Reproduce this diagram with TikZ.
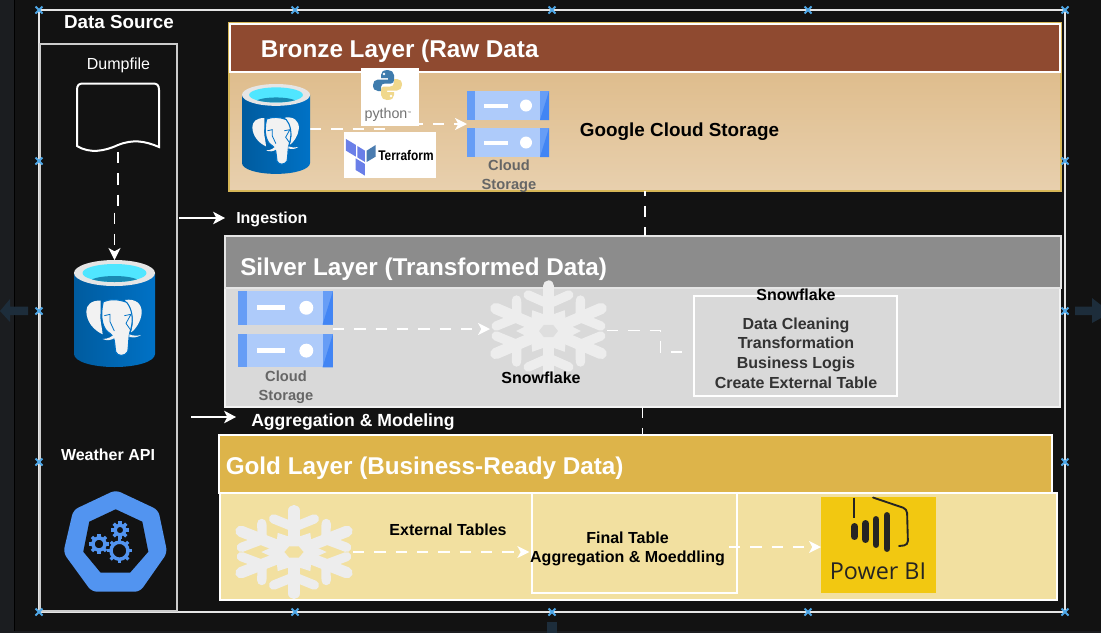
\documentclass[tikz,border=0pt]{standalone}
\usepackage{fontspec}
\setmainfont{Liberation Sans}
\newfontfamily\pbifont{Open Sans}
\usetikzlibrary{arrows.meta,calc}
\definecolor{bgc}{HTML}{121212}
\definecolor{stripc}{HTML}{1B1D20}
\definecolor{bronzeh}{HTML}{8F4A30}
\definecolor{bronzet}{HTML}{DBB57F}
\definecolor{bronzeb}{HTML}{E8D0AE}
\definecolor{bronzel}{HTML}{D6B656}
\definecolor{silverh}{HTML}{8C8C8C}
\definecolor{silverb}{HTML}{D9D9D9}
\definecolor{goldh}{HTML}{DDB44A}
\definecolor{goldb}{HTML}{F2E0A0}
\definecolor{flakec}{HTML}{EDEDED}
\definecolor{pgblue}{HTML}{0072C6}
\definecolor{pgcyan}{HTML}{50E6FF}
\definecolor{pgdeep}{HTML}{198AB3}
\definecolor{csl}{HTML}{AECBFA}
\definecolor{csm}{HTML}{669DF6}
\definecolor{csd}{HTML}{4285F4}
\definecolor{k8s}{HTML}{5294F0}
\definecolor{hdlc}{HTML}{4FA8E8}
\definecolor{ghost}{HTML}{1D2D3B}
\definecolor{pbiy}{HTML}{F2C811}
\definecolor{pbid}{HTML}{252423}
\definecolor{capg}{HTML}{666666}
\definecolor{boxt}{HTML}{333333}
\definecolor{pyblue}{HTML}{3F7CAD}
\definecolor{pyyellow}{HTML}{F0D88C}
\definecolor{tfl}{HTML}{6A7FE8}
\definecolor{tfd}{HTML}{4A7CB0}
\tikzset{
  box/.style 2 args={minimum width=#1*0.75pt,minimum height=#2*0.75pt,inner sep=0pt,outer sep=0pt,anchor=north west},
  edge1/.style={line width=0.85pt},
  flow/.style={draw=white,line width=0.9pt,dash pattern=on 8.5pt off 7.5pt},
  flowtip/.style={flow,-{Stealth[length=9pt,width=9pt,inset=2.5pt,fill=white]}},
  solidtip/.style={draw=white,line width=0.9pt,-{Stealth[length=9pt,width=9.5pt,inset=2.5pt,fill=white]}},
  title/.style={font=\fontsize{18.2}{21}\selectfont\bfseries,text=white,anchor=west,inner sep=0pt},
  lab/.style={font=\fontsize{12}{14.7}\selectfont\bfseries,align=center,inner sep=0pt},
  caplab/.style={font=\fontsize{11}{14}\selectfont\bfseries,align=center,text=capg,inner sep=0pt},
  pics/pgicon/.style={code={
    \shade[left color=pgblue!80!black,right color=pgblue] (0,13) -- (0,94) .. controls (0,101.5) and (18,107) .. (40.5,107) .. controls (63,107) and (81,101.5) .. (81,94) -- (81,13) -- cycle;
    \fill[black!10] (40.5,13) ellipse [x radius=40.5,y radius=13];
    \begin{scope}
      \clip (40.5,13) ellipse [x radius=32,y radius=9];
      \fill[pgcyan] (0,0) rectangle (81,26);
      \fill[pgdeep] (40.5,22) ellipse [x radius=25,y radius=6];
    \end{scope}
    \begin{scope}[scale=0.3333,shift={(-42,-15)}]
      \fill[black!5] (122,137) .. controls (95,135) and (78,150) .. (79,170) .. controls (80,200) and (100,225) .. (128,238) .. controls (125,210) and (118,190) .. (122,170) -- cycle;
      \fill[black!5] (195,135) .. controls (225,130) and (247,145) .. (245,175) .. controls (243,200) and (225,225) .. (213,232) .. controls (222,200) and (222,170) .. (195,135) -- cycle;
      \filldraw[fill=black!5,draw=pgblue,line width=.8pt] (130,140) .. controls (150,132) and (175,132) .. (200,142) .. controls (215,160) and (222,190) .. (212,225) .. controls (205,240) and (207,270) .. (203,290) .. controls (195,305) and (172,305) .. (167,290) .. controls (163,260) and (165,245) .. (150,235) .. controls (130,225) and (118,190) .. (130,140) -- cycle;
      \draw[pgblue,line width=.6pt] (133,182) -- (150,178) -- (150,200) -- (163,228);
      \draw[pgblue,line width=.6pt] (193,182) -- (213,178) -- (198,205) -- (212,225);
      \fill[black!5] (128,252) .. controls (145,252) and (155,245) .. (165,236) -- (165,248) .. controls (155,256) and (140,258) .. (128,252) -- cycle;
      \fill[black!5] (208,238) .. controls (220,243) and (232,243) .. (243,240) .. controls (232,248) and (220,248) .. (208,246) -- cycle;
    \end{scope}
  }},
  pics/csicon/.style={code={
    \foreach \dy in {0,37}{
      \fill[csl] (0,\dy) rectangle (82,\dy+29);
      \fill[csm] (0,\dy) rectangle (8,\dy+29);
      \fill[csm] (73,\dy) rectangle (82,\dy+29);
      \fill[csd] (73,\dy+29) -- (82,\dy) -- (82,\dy+29) -- cycle;
      \fill[white] (16.5,\dy+12.5) rectangle (41,\dy+16.5);
      \fill[white] (59,\dy+14.5) circle [radius=6];
    }
  }},
  pics/flake/.style={code={
    \fill[flakec] (0:24) -- (30:15) -- (60:24) -- (90:15) -- (120:24) -- (150:15) -- (180:24) -- (210:15) -- (240:24) -- (270:15) -- (300:24) -- (330:15) -- cycle;
    \foreach \a in {30,90,150,210,270,330}{
      \begin{scope}[rotate=\a]
        \draw[flakec,line width=8.5pt,line cap=round] (0,0) -- (45,0);
        \draw[flakec,line width=7pt,line cap=round] (36,15) -- (27,0) -- (36,-15);
      \end{scope}
    }
    \fill[#1] (0:7) -- (60:7) -- (120:7) -- (180:7) -- (240:7) -- (300:7) -- cycle;
  }},
  pics/hdl/.style={code={
    \draw[hdlc,line width=1.5pt] (-3.5,-3.5) -- (3.5,3.5) (-3.5,3.5) -- (3.5,-3.5);
  }},
  pics/gear/.style={code={
    \foreach \a in {0,45,...,315}{
      \draw[k8s,line width=2.4pt] (\a:#1-1) -- (\a:#1+3);
    }
    \draw[k8s,line width=2.6pt] (0,0) circle [radius=#1-1];
  }},
}
\newcommand{\pyshape}{(15,0) .. controls (10,0) and (8,2) .. (8,5) -- (8,8) -- (15,8) -- (15,9.5) -- (5,9.5) .. controls (2,9.5) and (0,12) .. (0,15) .. controls (0,19) and (2,21) .. (5,21) -- (8,21) -- (8,17) .. controls (8,14.5) and (10,13.5) .. (12,13.5) -- (18,13.5) .. controls (20,13.5) and (21,12) .. (21,10) -- (21,5) .. controls (21,2) and (18,0) .. (15,0) -- cycle}
\begin{document}
\begin{tikzpicture}[x=0.75pt,y=-0.75pt]
\useasboundingbox (0,0) rectangle (1101,633);
% backdrop
\fill[bgc] (0,0) rectangle (1101,633);
\fill[stripc] (0,0) rectangle (14,633);
\fill[black] (14,0) rectangle (15,633);
\fill[stripc] (0,631) rectangle (1101,633);
% faint page arrows
\fill[ghost] (28,306.5) -- (10,306.5) -- (10,299) -- (0,311) -- (10,322) -- (10,315) -- (28,315) -- cycle;
\fill[ghost] (1075,306.5) -- (1092,306.5) -- (1092,298) -- (1101,305) -- (1101,318) -- (1092,323) -- (1092,315) -- (1075,315) -- cycle;
\fill[ghost] (547,622) rectangle (557,633);
% frames
\node[box={1026}{602},draw=white!90!black,edge1] (outer) at (39,10) {};
\node[box={137}{567},draw=black!20,edge1] (dsbox) at (40,44) {};
% layers
\node[box={832}{168},draw=bronzel,edge1,top color=bronzet,bottom color=bronzeb] (bronze) at (229,23) {};
\node[box={830}{48},draw=white,edge1,fill=bronzeh] (bronzehead) at (230,24) {};
\node[box={835}{119},draw=white!95!black,edge1,fill=silverb] (silver) at (225,288) {};
\node[box={836}{52},draw=black!10,edge1,fill=silverh] (silverhead) at (225,236) {};
\node[box={837}{107},draw=white,edge1,fill=goldb] (gold) at (220,493) {};
\node[box={833}{58},draw=white,edge1,fill=goldh] (goldhead) at (219,435) {};
\node[box={205}{100},draw=white,edge1] (final) at (532,493) {};
\node[box={203}{100},draw=white,edge1] (sfbox) at (694,296) {};
% anchor boxes of the icons
\node[box={82}{65}] (dump) at (77,83) {};
\node[box={81}{107}] (pgA) at (74,260) {};
\node[box={68}{90}] (pgB) at (242,84) {};
\node[box={82}{66}] (csB) at (467,91) {};
\node[box={95}{76}] (csS) at (238,291) {};
\node[box={117}{101}] (flakeS) at (490,280) {};
\node[box={118}{92}] (flakeG) at (235,506) {};
\node[box={115}{96},fill=pbiy] (pbi) at (821,497) {};
\coordinate (ingA) at (179,218);
\coordinate (aggA) at (191,417);
\coordinate (aggB) at (236,417);
\coordinate (sfIn) at (685,352);
\coordinate (finalOut) at (729,547);
% connectors
\draw[flow,dash phase=4.75pt] (bronze.south) -- (bronze.south |- silverhead.north);
\draw[flow] (silver.south) -- (silver.south |- goldhead.north);
\draw[flowtip,shorten <=3pt] (dump.south) -- ([yshift=-43pt]dump.south) -| (pgA.north);
\draw[flowtip] (pgB.east) -- ([xshift=58.5pt]pgB.east) |- (csB.west);
\draw[flowtip] (csS.east) -- (csS.east -| flakeS.west);
\draw[flow] (flakeS.east) -- ([xshift=40pt]flakeS.east) |- (sfIn);
\draw[flowtip,shorten >=2pt] (flakeG.east) -- (final.west |- flakeG.east);
\draw[flowtip] (finalOut) -- (pbi.west |- finalOut);
\draw[solidtip] (ingA) -- (silverhead.west |- ingA);
\draw[solidtip] (aggA) -- (aggB);
% logo cards over the bronze connector
\node[box={58}{58},fill=white] (py) at (361,68) {};
\node[box={92}{46},fill=white] (tf) at (344,132) {};
% handles
\foreach \p in {(39,10),(295,10),(552,10),(808,10),(1065,10),(39,161),(1065,161),(39,311),(1065,311),(39,462),(1065,462),(39,612),(295,612),(552,612),(808,612),(1065,612)}{
  \pic at \p {hdl};
}
% dumpfile shape
\draw[white,line width=1.5pt] (77,146) -- (77,90) .. controls (77,85) and (79,83.5) .. (83,83.5) -- (153,83.5) .. controls (157,83.5) and (159,85) .. (159,90) -- (159,147) .. controls (145,141) and (133,139) .. (118,145) .. controls (105,151) and (90,154) .. (77,146) -- cycle;
% icons
\pic at (74,260) {pgicon};
\pic[scale=0.84] at (242,84) {pgicon};
\pic at (467,91) {csicon};
\pic[scale=1.158] at (238,291) {csicon};
\pic[xscale=1.35,yscale=1.0] at (548.5,331) {flake=black!13};
\pic[xscale=1.36,yscale=0.92] at (294,552) {flake=goldb};
% kubernetes
\fill[k8s,rounded corners=4pt] (115.7,490) -- (158.3,510) -- (167.3,552.7) -- (140,591.7) -- (91.7,591.7) -- (63.3,552.7) -- (73.3,510) -- cycle;
\fill[bgc] (115.7,509.3) -- (142.3,521.7) -- (148.3,551.7) -- (130,572.7) -- (100.7,572.7) -- (83.3,551.7) -- (89.3,521.7) -- cycle;
\pic at (119.5,550.7) {gear=9.5};
\pic at (120,530) {gear=6};
\pic at (99,544) {gear=7};
% python
\begin{scope}[shift={(373,70)}]
  \fill[pyblue] \pyshape;
  \fill[white] (11,4) circle [radius=1.4];
  \begin{scope}[shift={(29,30)},scale=-1]
    \fill[pyyellow] \pyshape;
    \fill[white] (11,4) circle [radius=1.4];
  \end{scope}
\end{scope}
\node[font=\fontsize{10.7}{12}\selectfont,text=black!55,inner sep=0pt] (pytxt) at (388,115) {python\raisebox{3.5pt}{\fontsize{3}{3}\selectfont ™}};
% terraform
\begin{scope}[shift={(225,60)},scale=0.3333]
  \fill[tfl] (363,237) -- (393,255) -- (393,290) -- (363,272) -- cycle;
  \fill[tfl] (397,258) -- (420,272) -- (420,306) -- (397,292) -- cycle;
  \fill[tfd] (425,272) -- (452,255) -- (452,290) -- (425,306) -- cycle;
  \fill[tfl] (392,295) -- (420,312) -- (420,347) -- (392,330) -- cycle;
\end{scope}
\node[font=\fontsize{10.5}{12}\selectfont\bfseries,xscale=.85,transform shape,inner sep=0pt] (tftxt) at (406,155.5) {Terraform};
% power bi
\draw[pbid,line width=1.2pt] (854,497.5) -- (854,518);
\draw[pbid,line width=1.4pt,line cap=round,line join=round,rounded corners=3pt] (873,497.5) -- (907,509) -- (908,545) -- (899,546);
\foreach \xx/\ya/\yb in {854.5/526.5/536.5,865.5/523.5/539.5,876/519.5/544.5,887/515.5/548.5}{
  \draw[pbid,line width=5.2pt,line cap=round] (\xx,\ya) -- (\xx,\yb);
}
\node[font=\fontsize{17.5}{20}\selectfont\pbifont,text=pbid,inner sep=0pt] (pbitxt) at (878,571) {Power BI};
% titles and labels
\node[font=\fontsize{14.1}{16}\selectfont\bfseries,text=white,inner sep=0pt] (tds) at (119,22) {Data Source};
\node[font=\fontsize{12}{14}\selectfont,text=white,inner sep=0pt] (tdf) at (118.5,65.5) {Dumpfile};
\node[font=\fontsize{12}{14}\selectfont\bfseries,text=white,inner sep=0pt] (twa) at (108,455) {Weather API};
\node[title] (tb) at (260.5,51) {Bronze Layer (Raw Data};
\node[title] (ts) at (240,269) {Silver Layer (Transformed Data)};
\node[title] (tg) at (225.5,468) {Gold Layer (Business-Ready Data)};
\node[font=\fontsize{14.15}{16}\selectfont\bfseries,text=black,inner sep=0pt] (tgcs) at (679.5,132) {Google Cloud Storage};
\node[caplab] (tcs1) at (509,176) {Cloud\\Storage};
\node[caplab] (tcs2) at (286,387) {Cloud\\Storage};
\node[lab,text=white,anchor=west] (ting) at (236,219) {Ingestion};
\node[font=\fontsize{13.2}{15}\selectfont\bfseries,text=white,anchor=west,inner sep=0pt] (tagg) at (251,422) {Aggregation \& Modeling};
\node[lab,text=black] (tsf1) at (541,378) {Snowflake};
\node[lab,text=black] (tsf2) at (796,295) {Snowflake};
\node[lab,text=boxt] (tsfb) at (796,353) {Data Cleaning\\Transformation\\Business Logis\\Create External Table};
\node[lab,text=black] (text) at (448,530) {External Tables};
\node[lab,text=black] (tfin) at (627.5,549) {Final Table\\Aggregation \& Moeddling};
\end{tikzpicture}
\end{document}
